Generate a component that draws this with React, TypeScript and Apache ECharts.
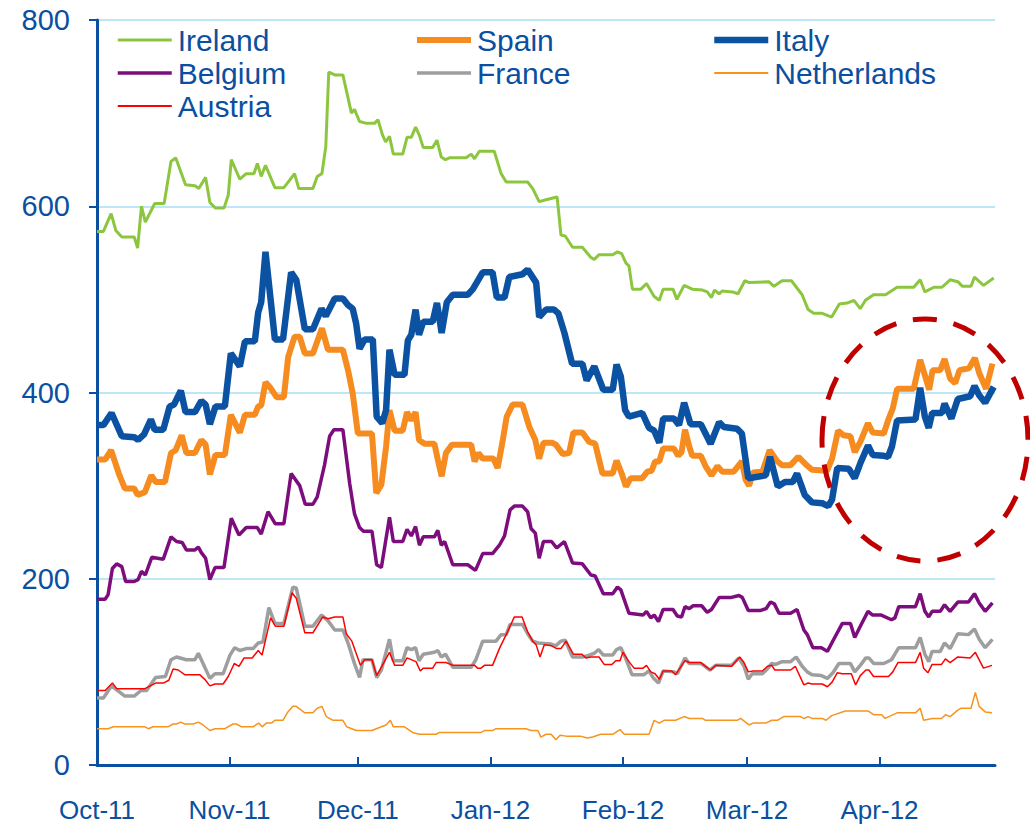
import React, { useEffect, useRef } from "react";
import * as echarts from "echarts";

const monthTicks = [0, 31, 61, 92, 123, 152, 183];
const monthLabels = ["Oct-11", "Nov-11", "Dec-11", "Jan-12", "Feb-12", "Mar-12", "Apr-12"];
const seriesNames = ["Ireland", "Spain", "Italy", "Belgium", "France", "Netherlands", "Austria"];

// [days since 1 Oct 2011, spread in bp]
const ireland = [[0,573],[1.5,573],[3.3,592],[4.4,574],[5.8,567],[8.7,567],[9.5,555],[10.4,600],[11.3,583],[13.5,603],[15.7,603],[17.3,648],[18.4,652],[20.7,623],[22.9,622],[23.8,619],[25.4,631],[26.4,604],[27.7,598],[29.7,598],[30.7,612],[31.4,650],[33.4,629],[34.9,635],[36.7,635],[37.5,646],[38.4,632],[39.4,644],[41.6,620],[43.7,620],[44.7,626],[46.2,635],[47.2,619],[50.5,619],[51.5,632],[52.6,635],[53.5,664],[54.2,744],[55.6,741],[57.5,741],[59.5,700],[60.2,704],[61.4,691],[63,689],[64.9,689],[65.7,693],[66.8,676],[67.5,669],[68.4,675],[69.3,656],[71.5,656],[72.5,674],[73.5,674],[74.5,685],[75.4,676],[76.3,663],[78.5,663],[79.5,671],[80.5,653],[81.5,650],[82.4,652],[86.3,652],[87.5,656],[88.3,651],[89.4,659],[92.9,659],[94.5,635],[95.7,626],[100.7,626],[101.9,619],[103.4,605],[105,607],[107.6,610],[108.5,569],[109.5,568],[111.2,556],[113.5,556],[115.5,545],[116.3,543],[117.4,548],[120.6,548],[121.7,551],[122.7,549],[123.7,539],[124.4,536],[125.2,511],[127.2,511],[128.5,517],[130.3,503],[131.5,499],[132.4,511],[134.7,511],[135.6,500],[137.3,515],[139.2,511],[141.6,510],[142.7,508],[143.7,502],[144.4,510],[145.5,506],[146.2,509],[148.6,508],[149.9,506],[151.5,520],[152.5,518],[157.1,519],[158.3,514],[160.2,520],[162.4,520],[164.9,505],[166.3,489],[167.6,485],[169.6,485],[171.8,481],[173.6,495],[175.4,496],[177,499],[178.5,490],[179.7,499],[181.6,505],[184.4,505],[187.1,513],[191,513],[192.5,521],[193.6,508],[195.7,513],[197.6,513],[199.5,521],[201.3,519],[202.4,514],[204.4,514],[205.2,524],[207.3,515],[209.7,523]];

const spain = [[0,328],[1.9,328],[3.3,338],[5.1,313],[6.5,297],[8.7,297],[9.5,290],[11.2,293],[12.7,311],[13.7,304],[15.9,304],[17.3,335],[18.4,338],[19.8,354],[20.9,335],[22.9,335],[24.4,349],[25.4,344],[26.4,312],[27.7,333],[29.9,333],[31.3,376],[33.4,357],[34.6,376],[36.9,376],[37.7,385],[38.4,386],[39.4,411],[40.4,406],[42,395],[43.7,395],[44.7,438],[46.2,460],[47.4,460],[48.6,442],[50.5,442],[52.6,469],[54,446],[57.5,446],[58.7,424],[59.8,399],[61,356],[64.3,356],[65.3,292],[66.5,301],[67.6,342],[68.4,381],[69.6,359],[71.5,359],[72.5,379],[73.5,370],[74.5,379],[75.3,349],[76.6,345],[78.9,345],[79.7,328],[80.6,310],[81.6,335],[83,344],[87.5,344],[88.3,326],[89.2,335],[90.2,329],[92.7,329],[93.7,319],[94.9,349],[95.8,374],[97.2,387],[99.5,387],[101.1,363],[102.5,349],[103.4,329],[104.4,346],[106.5,346],[107.3,344],[108.9,334],[110.4,335],[111.4,357],[113.5,357],[115.1,347],[116.5,345],[118.2,313],[120.6,313],[121.5,327],[122.7,313],[123.7,299],[124.8,308],[127.5,308],[128.7,315],[129.7,316],[130.5,326],[131.5,326],[132.4,340],[134.9,340],[135.9,332],[136.7,336],[137.5,360],[138.5,342],[139.2,332],[141.2,332],[142.3,321],[143.7,311],[145.1,321],[146.2,315],[148.9,315],[150.8,326],[151.7,306],[152.5,300],[153.4,314],[155.6,315],[157.3,338],[159.1,326],[160.2,322],[162.2,322],[164,331],[165.7,323],[167.2,317],[170.7,316],[171.9,329],[173.3,359],[174.6,354],[176.2,353],[177.2,336],[178.5,347],[180.3,367],[181.4,357],[184,356],[185,370],[186.1,383],[187.1,404],[191,404],[192.5,435],[193.7,417],[194.6,403],[195.4,424],[197.2,424],[198.2,436],[199.5,415],[200.7,410],[201.7,424],[203.9,426],[205.3,437],[206.3,421],[207.9,404],[209.4,431]];

const italy = [[0,365],[1.5,365],[3.4,378],[5.8,353],[8.7,352],[9.6,349],[11,355],[12.6,371],[13.5,360],[15.5,360],[17,385],[18,387],[19.6,402],[20.7,379],[22.9,379],[24.4,391],[25.4,387],[26.4,366],[27.7,385],[29.9,385],[31.3,442],[33.4,428],[34.6,455],[36.9,455],[37.7,486],[38.4,497],[39.4,551],[41.6,457],[43.5,457],[45.4,529],[46.6,521],[48.6,468],[50.5,468],[52.5,490],[53.5,482],[55.6,501],[57.5,501],[58.7,494],[59.8,490],[60.6,474],[61.4,447],[62.6,457],[64.5,457],[65.4,374],[66.7,367],[67.6,381],[68.4,446],[69.6,419],[71.9,419],[72.7,456],[73.5,462],[74.5,489],[75.3,462],[76.3,476],[78.5,476],[79.5,496],[80.6,464],[81.8,497],[83.2,505],[86.7,505],[87.9,511],[90.2,529],[92.5,529],[93.5,502],[95.3,502],[96.4,524],[99.5,527],[100.7,532],[102.7,518],[103.4,481],[105,489],[106.9,489],[107.9,485],[109.3,464],[111.1,431],[113.5,431],[114.5,413],[116.3,428],[118.4,403],[120.6,403],[121.5,430],[122.5,417],[123.5,381],[124.4,374],[127.5,378],[129.1,362],[130.3,359],[131.5,346],[132.4,372],[134.9,372],[136.1,365],[137.3,389],[138.8,366],[141.2,366],[142.3,356],[143.5,345],[145.5,368],[146.6,363],[149.7,361],[150.8,356],[152.3,308],[156.4,311],[157.4,331],[159.2,299],[160.9,304],[162.7,304],[163.7,313],[165.5,290],[167.2,282],[169.6,281],[171,278],[171.9,285],[173.1,319],[175.8,318],[177.2,308],[178.5,324],[180.3,343],[181.4,333],[184,332],[185,331],[185.9,342],[187.1,370],[191.4,371],[192.5,405],[193.6,374],[194.5,362],[195.3,378],[197.6,378],[198.2,388],[199.8,372],[201.3,393],[204.2,396],[205.2,407],[206.3,397],[207.7,389],[209.7,406]];

const belgium = [[0,178],[1.9,178],[2.6,183],[3.6,211],[4.6,216],[5.8,213],[6.7,197],[8.7,197],[9.6,199],[10.4,208],[11.3,204],[12.8,223],[15.5,221],[17.3,245],[18.6,240],[19.9,239],[20.9,231],[22.9,231],[23.7,234],[24.4,228],[25.4,222],[26.4,199],[27.6,212],[29.7,212],[31.4,265],[33.2,247],[34.9,255],[37.5,255],[38.4,248],[40,272],[41.7,259],[43.7,259],[45.4,313],[47.4,300],[48.7,280],[50.5,280],[51.5,288],[53.2,322],[54.4,353],[55.4,360],[57.5,360],[59.1,302],[60.2,270],[61.4,255],[62.3,251],[64.3,251],[65.4,215],[66.5,212],[68.4,266],[69.3,240],[71.5,240],[72.5,253],[73.5,246],[74.5,256],[75.4,236],[76.3,245],[78.9,245],[79.7,252],[80.5,236],[81.3,240],[83.2,215],[86.7,215],[88.5,209],[90.2,227],[92.5,227],[94.1,236],[95.3,246],[96.6,274],[97.6,278],[99.5,278],[100.7,272],[101.5,254],[102.5,249],[103.4,222],[104.4,240],[106.3,240],[107.5,233],[109.3,240],[111.2,217],[113.5,216],[115.5,204],[116.5,203],[118.4,184],[120.6,184],[121.7,191],[122.5,188],[124.4,163],[127.7,161],[128.5,165],[129.5,158],[130.3,161],[131.3,154],[132.4,167],[134.7,167],[135.7,160],[136.7,159],[137.5,170],[138.5,168],[139.4,171],[141.4,171],[142.7,164],[143.7,167],[145.5,180],[148.4,180],[150.1,182],[150.9,180],[152.3,166],[155.2,166],[156.5,168],[157.5,175],[158.4,173],[159.5,163],[162.2,163],[163.7,167],[165.3,145],[166.1,140],[167.4,126],[169.4,126],[170.8,122],[172.3,135],[174.3,152],[176.2,152],[177.2,137],[178.5,149],[180.3,165],[181.4,161],[183.4,161],[185.8,156],[186.6,158],[187.5,170],[191.4,170],[192.5,184],[193.6,165],[194.5,159],[195.3,165],[197.2,165],[198.2,172],[199.5,165],[201.3,175],[203.8,175],[205.2,184],[206.3,174],[207.7,165],[209.4,174]];

const france = [[0,72],[1.5,72],[3.4,85],[6.5,74],[8.7,74],[10.3,80],[11.6,80],[13.7,94],[16,95],[17.3,113],[18.6,116],[20.9,113],[22.9,113],[23.7,120],[24.8,109],[26.4,93],[27.6,98],[29.5,98],[31.1,118],[32.2,126],[33.4,123],[34.9,125],[36.5,125],[37.7,131],[38.8,132],[40.2,169],[41.6,152],[43.7,152],[45.8,191],[46.6,190],[48.6,149],[50.5,149],[52.5,161],[54,155],[55.6,145],[57.5,145],[58.7,131],[60.2,109],[61.4,94],[62.2,113],[64.3,113],[65.4,94],[66.5,102],[68.4,135],[69.3,112],[71.5,112],[72.5,126],[73.5,124],[74.5,126],[75.3,112],[76.3,119],[78.9,121],[79.7,123],[80.5,116],[81.5,119],[83.2,105],[87.5,105],[88.6,113],[90.2,133],[93.3,133],[94.5,140],[95.7,140],[96.6,151],[99.5,151],[100.7,141],[101.9,133],[103.1,131],[106.1,130],[107.3,128],[108.5,133],[109.5,134],[111.2,116],[113.5,116],[114.5,117],[116.3,120],[117.3,124],[118.4,118],[120.6,118],[121.5,124],[122.5,126],[123.5,116],[125.1,97],[127.9,97],[129.1,101],[130,94],[131.3,88],[132.4,101],[134.9,100],[135.7,98],[137.5,115],[138.5,109],[141.2,109],[142.2,106],[143.3,102],[144.7,107],[148.4,107],[150.1,115],[151.3,106],[152.3,92],[153.2,98],[155.6,98],[156.5,102],[157.8,109],[158.7,108],[160.2,111],[162.2,111],[163.5,116],[164.9,106],[166.1,100],[167.2,97],[169.4,96],[170.8,93],[172.1,99],[173.5,109],[176.2,109],[177.2,100],[178.5,107],[179.8,115],[180.5,115],[181.6,109],[184,109],[185.8,113],[187.5,126],[191.4,126],[192.5,137],[193.6,119],[194.5,111],[195.3,122],[197.2,122],[198.2,131],[199.5,125],[201.3,141],[203.8,140],[205.2,146],[206.3,135],[207.7,126],[209.4,135]];

const netherlands = [[0,39],[2.6,39],[3.8,41],[11.2,41],[12,39],[13.1,41],[16.6,41],[17.8,44],[18.6,44],[19.6,46],[20.5,44],[22.5,44],[23.7,46],[24.8,43],[26.4,37],[27.6,39],[29.9,39],[31.8,44],[32.6,44],[33.8,41],[36.5,41],[37.8,45],[38.6,41],[39.6,45],[40.8,45],[41.6,48],[43.5,48],[44.5,56],[45.8,63],[46.6,63],[48.6,56],[50.5,56],[51.5,61],[52.6,63],[53.6,52],[55.2,48],[57.5,48],[58.4,41],[60.6,37],[64.3,37],[66.5,41],[67.6,43],[68.6,48],[69.3,41],[71.9,41],[73.8,35],[75.4,33],[79.3,33],[80.1,35],[89.8,35],[90.6,37],[92.5,37],[93.3,39],[100.3,39],[101.5,37],[103.1,37],[103.8,30],[105,33],[106.2,33],[107.3,27],[108.3,32],[109.7,31],[113.1,31],[114.6,29],[115.9,30],[117.8,33],[120.6,33],[122.3,38],[123.3,33],[129.1,33],[130.3,48],[131.5,45],[132.6,48],[135.3,48],[137.3,52],[138.5,50],[141.6,50],[142.3,48],[149.7,48],[150.5,50],[152.5,43],[153.4,45],[156.4,45],[157.8,48],[159.1,48],[160.6,52],[164.5,52],[165.3,50],[166.3,52],[167.2,50],[169.6,50],[170.5,48],[171.8,53],[175,58],[180.3,58],[181.6,54],[183.5,54],[184.3,50],[187.1,56],[191.4,56],[192.5,61],[193.3,48],[195.3,50],[197.5,50],[198.4,54],[199.5,52],[201.3,59],[202.1,61],[204.4,61],[205.4,78],[206.3,63],[207.7,57],[209.3,56]];

const austria = [[0,80],[1.9,80],[3.6,88],[4.6,82],[11.2,82],[13.7,88],[15.5,88],[16.8,91],[17.8,103],[19,102],[20.5,97],[24,97],[25.2,92],[26.4,85],[27.6,87],[29.5,87],[30.7,95],[32.1,109],[33.2,106],[34.4,115],[36.3,115],[37.7,123],[38.6,118],[40.6,158],[41.7,149],[43.7,149],[45.6,185],[46.6,179],[48.6,142],[50.5,142],[52.8,159],[54,157],[55.6,159],[57.5,159],[58.3,141],[59.6,133],[61.6,107],[62.6,113],[64.3,113],[65.4,96],[68.4,121],[69.6,107],[71.5,107],[72.5,115],[74.6,111],[75.6,101],[76.3,104],[78.5,104],[79.3,110],[81.6,110],[83.2,107],[88.3,107],[89,104],[89.8,104],[90.6,107],[92.5,107],[94.1,125],[95.8,141],[97.6,159],[99.4,159],[100.7,143],[101.9,133],[102.7,129],[103.6,116],[104.6,129],[106.3,128],[107.5,125],[108.5,125],[109.7,133],[111.4,119],[113.4,119],[114.3,115],[115.5,116],[117.4,116],[118.6,108],[120.4,108],[121.3,112],[122.3,112],[123,121],[124.4,111],[125.6,104],[127.7,104],[128.5,107],[129.5,100],[130.5,98],[131.5,92],[132.4,101],[134.4,101],[135.3,97],[137.5,112],[138.5,110],[141.2,110],[142.3,106],[143.5,102],[144.7,107],[148.4,106],[150.3,116],[151.3,110],[152.3,100],[153.4,101],[155.6,101],[156.8,106],[157.8,107],[158.5,102],[162.2,102],[163.3,106],[165.3,86],[166.3,88],[167.2,87],[169.6,87],[170.8,84],[171.9,89],[173.1,99],[174.3,98],[176.4,98],[177.4,86],[178.5,96],[179.8,102],[180.5,102],[181.6,95],[185.1,95],[186.1,100],[187.3,110],[191.4,110],[192.5,121],[193.3,104],[194.3,99],[195.3,108],[197.5,108],[198.4,114],[199.5,110],[201.3,116],[204.2,115],[205.4,121],[207.3,104],[209.3,107]];

const seriesData = [ireland, spain, italy, belgium, france, netherlands, austria];
const seriesColors = ["#8CC63F", "#F68B1F", "#0B52A2", "#7D0D7D", "#9E9E9E", "#F7941E", "#FF0000"];
const seriesWidths = [3, 6, 6.5, 3.5, 3.5, 1.5, 1.5];

const BLUE = "#0B4FA0";
const FONT = "Liberation Sans";

export default function App() {
  const ref = useRef<HTMLDivElement>(null);
  useEffect(() => {
    document.body.style.margin = "0";
    const chart = echarts.init(ref.current!, null, { renderer: "svg" });
    const legendItem = (idx: number[], left: number) => ({
      orient: "vertical",
      left,
      top: 25,
      padding: 0,
      itemWidth: 54,
      itemHeight: 14,
      itemGap: 3,
      itemStyle: { color: "transparent", borderColor: "transparent", borderWidth: 0 },
      data: idx.map((i) => ({
        name: seriesNames[i],
        lineStyle: { width: Math.max(seriesWidths[i], 2), color: seriesColors[i] },
      })),
      textStyle: { color: BLUE, fontSize: 30, fontFamily: FONT, padding: [0, 0, 0, 1], lineHeight: 30 },
    });
    chart.setOption({
      animation: false,
      backgroundColor: "#fff",
      grid: { left: 97, right: 35, top: 20, bottom: 62, containLabel: false, outerBoundsMode: "none" },
      legend: [
        legendItem([0, 3, 6], 116),
        legendItem([1, 4], 414),
        legendItem([2, 5], 711),
      ],
      xAxis: {
        type: "value",
        min: 0,
        max: 210,
        splitLine: { show: false },
        axisLine: { lineStyle: { color: BLUE, width: 3 } },
        axisTick: { customValues: monthTicks, inside: true, length: 8, lineStyle: { color: BLUE, width: 2 } },
        axisLabel: {
          customValues: monthTicks,
          formatter: (v: number) => monthLabels[monthTicks.indexOf(v)] ?? "",
          color: BLUE,
          fontSize: 26,
          fontFamily: FONT,
          margin: 32,
        },
      },
      yAxis: {
        type: "value",
        min: 0,
        max: 800,
        interval: 200,
        axisLine: { show: true, lineStyle: { color: BLUE, width: 3 } },
        axisTick: { show: true, length: 8, lineStyle: { color: BLUE, width: 2 } },
        splitLine: { lineStyle: { color: "#BDE6F6", width: 2 } },
        axisLabel: { color: BLUE, fontSize: 29, fontFamily: FONT, margin: 27 },
      },
      series: seriesNames.map((name, i) => ({
        name,
        type: "line",
        data: seriesData[i],
        symbol: "none",
        lineStyle: { color: seriesColors[i], width: seriesWidths[i] },
        itemStyle: { color: seriesColors[i] },
        z: 2 + i,
      })),
      graphic: [
        {
          type: "ellipse",
          shape: { cx: 925, cy: 440, rx: 103, ry: 121 },
          style: { fill: "none", stroke: "#C00000", lineWidth: 5, lineDash: [24, 17] },
          z: 100,
        },
      ],
    });
    return () => chart.dispose();
  }, []);
  return <div ref={ref} style={{ width: 1030, height: 827 }} />;
}
